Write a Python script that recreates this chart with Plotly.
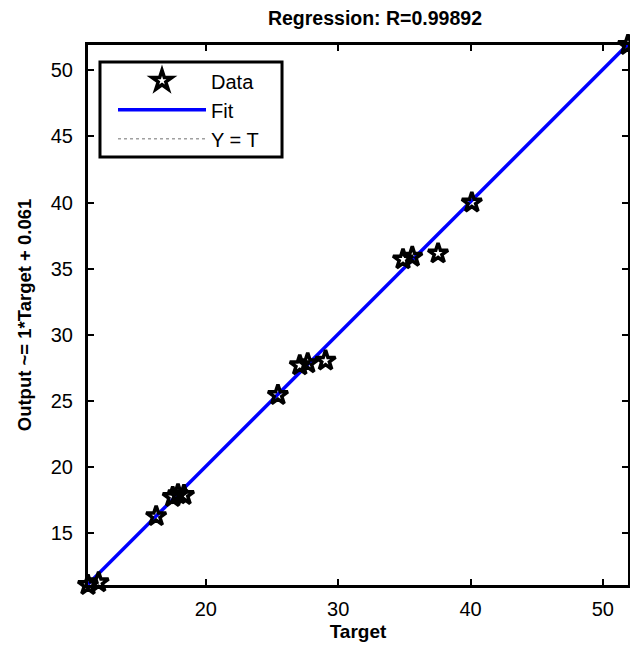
import plotly.graph_objects as go

# Data
targets = [11.1, 11.9, 16.25, 17.5, 17.9, 18.35, 25.45, 27.1, 27.7, 29.05, 34.9, 35.6, 37.55, 40.1, 51.9]
outputs = [11.1, 11.3, 16.3, 17.75, 17.95, 17.9, 25.45, 27.7, 27.85, 28.05, 35.7, 35.9, 36.15, 40.0, 51.9]
slope = 1.0
offset = 0.061
r_value = "0.99892"
x_ticks = [20, 30, 40, 50]
y_ticks = [15, 20, 25, 30, 35, 40, 45, 50]

xmin, xmax = min(targets), max(targets)
fit_x = [xmin, xmax]
fit_y = [slope * v + offset for v in fit_x]

font_family = "Liberation Sans, Arial, sans-serif"

fig = go.Figure()
fig.add_trace(go.Scatter(
    x=fit_x, y=fit_x, mode="lines", name="Y = T",
    line=dict(color="#a0a0a0", width=1.5, dash="dot"), legendrank=3))
fig.add_trace(go.Scatter(
    x=fit_x, y=fit_y, mode="lines", name="Fit",
    line=dict(color="#0000ff", width=3.5), legendrank=2))
fig.add_trace(go.Scatter(
    x=targets, y=outputs, mode="markers", name="Data",
    marker=dict(symbol="star-open", size=15, color="black",
                line=dict(color="black", width=3.5)),
    cliponaxis=False, legendrank=1))

axis_common = dict(
    showgrid=False, zeroline=False, showline=True, linecolor="black", linewidth=3,
    mirror="ticks", ticks="inside", ticklen=6, tickwidth=2, tickcolor="black",
    automargin=False,
    tickfont=dict(family=font_family, size=20, color="black"),
)

fig.update_layout(
    width=630, height=644,
    margin=dict(l=80, r=10, t=37, b=67),
    paper_bgcolor="white", plot_bgcolor="white",
    title=dict(text="<b>Regression: R=" + r_value + "</b>", x=0.5825, xanchor="center",
               y=0.984, yanchor="middle",
               font=dict(family=font_family, size=19.5, color="black")),
    xaxis=dict(range=[xmin, xmax], tickvals=x_ticks, ticklabelstandoff=4,
               title=dict(text="<b>Target</b>", standoff=6,
                          font=dict(family=font_family, size=19, color="black")),
               **axis_common),
    yaxis=dict(range=[xmin, xmax], tickvals=y_ticks, ticklabelstandoff=8,
               title=dict(text="<b>Output ~= 1*Target + 0.061</b>", standoff=15,
                          font=dict(family=font_family, size=18.5, color="black")),
               **axis_common),
    legend=dict(x=0.0463, y=0.970, xanchor="left", yanchor="top",
                borderwidth=0, bgcolor="rgba(0,0,0,0)",
                font=dict(family=font_family, size=20, color="black"),
                itemwidth=88, tracegroupgap=0),
    showlegend=True,
    shapes=[dict(type="rect", xref="paper", yref="paper",
                 x0=0.0222, x1=0.3593, y0=0.7926, y1=0.9685,
                 line=dict(color="black", width=3), fillcolor="white", layer="below")],
)

fig.write_html("out.html")
